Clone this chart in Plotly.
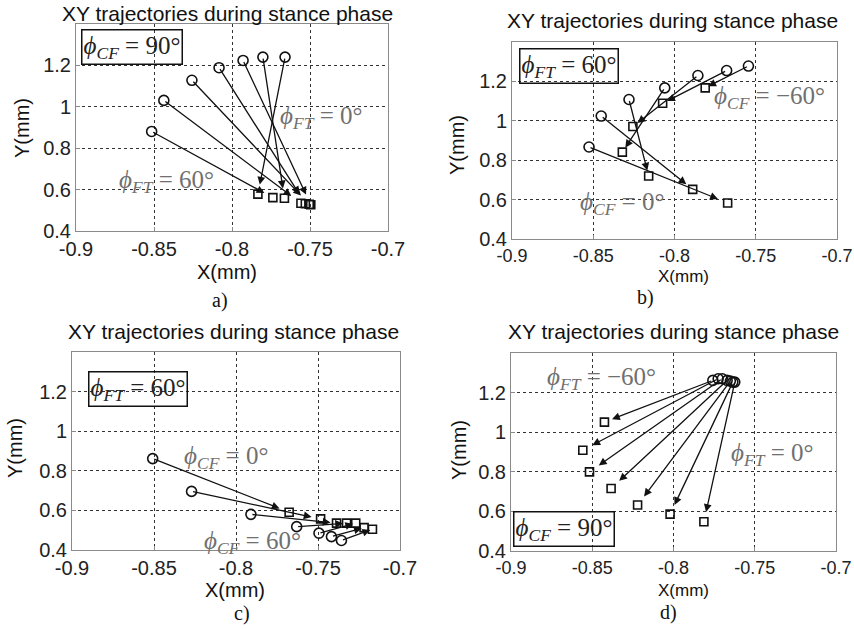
import plotly.graph_objects as go

# ---------------- data ----------------
x_tick_vals = [-0.9, -0.85, -0.8, -0.75, -0.7]
x_tick_text = ["-0.9", "-0.85", "-0.8", "-0.75", "-0.7"]
y_tick_vals = [0.4, 0.6, 0.8, 1.0, 1.2]
y_tick_text = ["0.4", "0.6", "0.8", "1", "1.2"]

a_start_x = [-0.8515, -0.8437, -0.8257, -0.8083, -0.7929, -0.7802, -0.7660]
a_start_y = [0.881, 1.031, 1.128, 1.189, 1.224, 1.240, 1.240]
a_end_x = [-0.7738, -0.7558, -0.7505, -0.7530, -0.7495, -0.7664, -0.7834]
a_end_y = [0.561, 0.534, 0.529, 0.532, 0.527, 0.558, 0.578]

b_start_x = [-0.8526, -0.8451, -0.8280, -0.8060, -0.7856, -0.7679, -0.7545]
b_start_y = [0.867, 1.024, 1.108, 1.167, 1.230, 1.255, 1.278]
b_end_x = [-0.7673, -0.7888, -0.8159, -0.8321, -0.8256, -0.8073, -0.7811]
b_end_y = [0.583, 0.652, 0.720, 0.841, 0.971, 1.089, 1.167]

c_start_x = [-0.8508, -0.8271, -0.7909, -0.7630, -0.7494, -0.7418, -0.7357]
c_start_y = [0.8615, 0.696, 0.580, 0.518, 0.485, 0.4675, 0.448]
c_end_x = [-0.7676, -0.7484, -0.7387, -0.7326, -0.7270, -0.7219, -0.7168]
c_end_y = [0.591, 0.557, 0.5355, 0.5355, 0.5355, 0.513, 0.505]

d_start_x = [-0.7758, -0.7725, -0.7700, -0.7670, -0.7650, -0.7635, -0.7623]
d_start_y = [1.2615, 1.270, 1.270, 1.2615, 1.258, 1.253, 1.253]
d_end_x = [-0.8425, -0.8558, -0.8517, -0.8384, -0.8221, -0.8021, -0.7813]
d_end_y = [1.051, 0.909, 0.7995, 0.716, 0.632, 0.586, 0.5476]

title_text = "XY trajectories during stance phase"
captions = ["a)", "b)", "c)", "d)"]

# ---------------- style ----------------
W, H = 854, 629
SANS = "Liberation Sans, Arial, sans-serif"
SERIF = "Liberation Serif, DejaVu Serif, serif"
ARROW_SCALE = 0.93


def px(x):
    return x / W


def py(y):
    return 1 - y / H


# panel plot-area boxes in page pixels (left, right, top, bottom, tick font)
boxes = {
    "a": (76, 388, 24, 231, 20),
    "b": (512, 837, 42, 239, 18),
    "c": (72, 400, 352, 550, 20),
    "d": (511, 836, 353, 551, 18),
}

panels = [
    ("a", a_start_x, a_start_y, a_end_x, a_end_y),
    ("b", b_start_x, b_start_y, b_end_x, b_end_y),
    ("c", c_start_x, c_start_y, c_end_x, c_end_y),
    ("d", d_start_x, d_start_y, d_end_x, d_end_y),
]

fig = go.Figure()
layout = dict(
    template="none",
    width=W, height=H, margin=dict(l=0, r=0, t=0, b=0, pad=0), autosize=False,
    paper_bgcolor="white", plot_bgcolor="white", showlegend=False,
)
annotations = []


def phi(sym, sub, val):
    return f"<i>{sym}</i><sub><i>{sub}</i></sub> = {val}°"


for i, (key, sx, sy, ex, ey) in enumerate(panels):
    n = "" if i == 0 else str(i + 1)
    xa, ya = "x" + n, "y" + n
    l, r, t, b, tfs = boxes[key]
    common = dict(
        showgrid=True, gridcolor="#333", griddash="dot", gridwidth=1,
        showline=True, mirror=True, linecolor="#8a8a8a", linewidth=1,
        ticks="inside", ticklen=4, tickcolor="#8a8a8a", automargin=False,
        ticklabeloverflow="allow", zeroline=False,
    )
    layout["xaxis" + n] = dict(
        domain=[px(l), px(r)], anchor=ya, range=[-0.9, -0.7],
        tickvals=x_tick_vals, ticktext=x_tick_text,
        tickfont=dict(family=SANS, size=tfs, color="#222"), **common,
    )
    layout["yaxis" + n] = dict(
        domain=[py(b), py(t)], anchor=xa, range=[0.4, 1.4],
        tickvals=y_tick_vals, ticktext=y_tick_text,
        tickfont=dict(family=SANS, size=20, color="#222"), **common,
    )
    # arrows (quiver-like, scaled)
    for x0, y0, x1, y1 in zip(sx, sy, ex, ey):
        hx = x0 + ARROW_SCALE * (x1 - x0)
        hy = y0 + ARROW_SCALE * (y1 - y0)
        annotations.append(dict(
            x=hx, y=hy, ax=x0, ay=y0, xref=xa, yref=ya, axref=xa, ayref=ya,
            text="", showarrow=True, arrowhead=2, arrowsize=1.2,
            arrowwidth=1.3, arrowcolor="#111", standoff=0, startstandoff=0,
        ))
    fig.add_trace(go.Scatter(
        x=sx, y=sy, xaxis=xa, yaxis=ya, mode="markers", hoverinfo="skip",
        marker=dict(symbol="circle-open", size=10, color="#111",
                    line=dict(width=1.6, color="#111")),
    ))
    fig.add_trace(go.Scatter(
        x=ex, y=ey, xaxis=xa, yaxis=ya, mode="markers", hoverinfo="skip",
        marker=dict(symbol="square-open", size=8, color="#111",
                    line=dict(width=1.6, color="#111")),
    ))

layout["annotations"] = annotations
fig.update_layout(**layout)

# titles, axis labels and captions (page pixel positions)
title_pos = [(227, 13), (672, 21), (233, 331), (673, 331)]
xlab_pos = [(227, 272, 20), (683, 277, 17), (235, 590, 20), (683, 590, 17)]
ylab_pos = [(22, 128), (457, 145), (15, 448), (459, 450)]
cap_pos = [(220, 300), (645, 297), (242, 613), (668, 612)]

for k in range(4):
    tx, ty = title_pos[k]
    fig.add_annotation(x=px(tx), y=py(ty), xref="paper", yref="paper",
                       text=title_text, showarrow=False,
                       font=dict(family=SANS, size=21, color="#111"),
                       xanchor="center", yanchor="middle")
    lx, ly, fs = xlab_pos[k]
    fig.add_annotation(x=px(lx), y=py(ly), xref="paper", yref="paper",
                       text="X(mm)", showarrow=False,
                       font=dict(family=SANS, size=fs, color="#111"),
                       xanchor="center", yanchor="middle")
    vx, vy = ylab_pos[k]
    fig.add_annotation(x=px(vx), y=py(vy), xref="paper", yref="paper",
                       text="Y(mm)", showarrow=False, textangle=-90,
                       font=dict(family=SANS, size=20, color="#111"),
                       xanchor="center", yanchor="middle")
    cx, cy = cap_pos[k]
    fig.add_annotation(x=px(cx), y=py(cy), xref="paper", yref="paper",
                       text=captions[k], showarrow=False,
                       font=dict(family=SERIF, size=20, color="#111"),
                       xanchor="center", yanchor="middle")

# in-plot labels (data coordinates)
GRAY = "#707070"
labels = [
    ("x", "y", -0.8638, 1.289, phi("ϕ", "CF", "90"), "center", True),
    ("x", "y", -0.7705, 0.946, phi("ϕ", "FT", "0"), "left", False),
    ("x", "y", -0.8737, 0.637, phi("ϕ", "FT", "60"), "left", False),
    ("x2", "y2", -0.8650, 1.280, phi("ϕ", "FT", "60"), "center", True),
    ("x2", "y2", -0.7768, 1.120, phi("ϕ", "CF", "−60"), "left", False),
    ("x2", "y2", -0.8591, 0.579, phi("ϕ", "CF", "0"), "left", False),
    ("x3", "y3", -0.8600, 1.212, phi("ϕ", "FT", "60"), "center", True),
    ("x3", "y3", -0.8329, 0.867, phi("ϕ", "CF", "0"), "left", False),
    ("x3", "y3", -0.8207, 0.440, phi("ϕ", "CF", "60"), "left", False),
    ("x4", "y4", -0.8791, 1.269, phi("ϕ", "FT", "−60"), "left", False),
    ("x4", "y4", -0.7656, 0.885, phi("ϕ", "FT", "0"), "left", False),
    ("x4", "y4", -0.8675, 0.511, phi("ϕ", "CF", "90"), "center", True),
]
for xr, yr, x, y, txt, anc, boxed in labels:
    if boxed:
        fig.add_annotation(x=x, y=y, xref=xr, yref=yr, text=txt, showarrow=False,
                           font=dict(family=SERIF, size=25, color="#222"),
                           xanchor="center", yanchor="middle",
                           bordercolor="#111", borderwidth=1.5, borderpad=1,
                           bgcolor="rgba(0,0,0,0)")
    else:
        fig.add_annotation(x=x, y=y, xref=xr, yref=yr, text=txt, showarrow=False,
                           font=dict(family=SERIF, size=25, color=GRAY),
                           xanchor=anc, yanchor="middle")

fig.write_html("out.html",
               config={"displayModeBar": False, "responsive": False},
               post_script="document.body.style.margin='0';"
                           "document.body.style.overflow='hidden';")
